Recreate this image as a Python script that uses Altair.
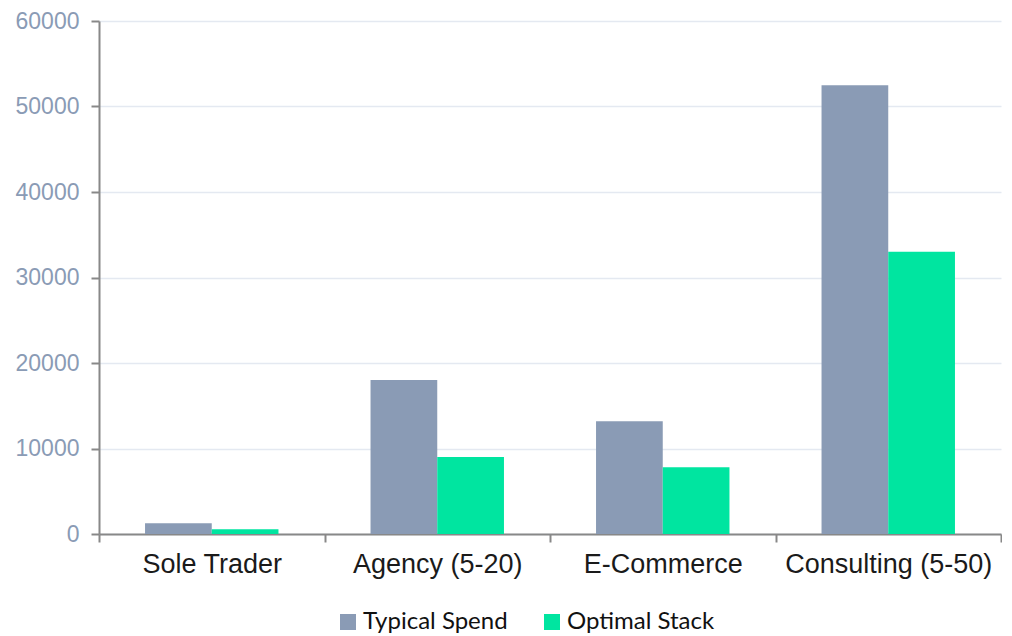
import altair as alt
import pandas as pd

categories = ["Sole Trader", "Agency (5-20)", "E-Commerce", "Consulting (5-50)"]
series = ["Typical Spend", "Optimal Stack"]
typical_spend = [1250, 18000, 13200, 52500]
optimal_stack = [550, 9000, 7800, 33000]
colors = ["#8a9bb5", "#00e5a0"]
y_ticks = [0, 10000, 20000, 30000, 40000, 50000, 60000]

rows = []
for c, t, o in zip(categories, typical_spend, optimal_stack):
    rows.append({"category": c, "series": series[0], "value": t})
    rows.append({"category": c, "series": series[1], "value": o})
df = pd.DataFrame(rows)

W = 902
H = 513

chart = alt.Chart(df).mark_bar().encode(
    x=alt.X("category:N", sort=categories,
            scale=alt.Scale(paddingInner=0, paddingOuter=0),
            axis=alt.Axis(title=None, tickBand="extent",
                          labelAngle=0, labelFont="Liberation Sans", labelFontSize=27,
                          labelColor="#1a1a1a", labelPadding=9, labelLimit=400,
                          domainColor="#888888", domainWidth=2,
                          tickColor="#888888", tickWidth=2, tickSize=8,
                          grid=False)),
    xOffset=alt.XOffset("series:N", sort=series,
                        scale=alt.Scale(paddingInner=0, paddingOuter=0.69)),
    y=alt.Y("value:Q",
            scale=alt.Scale(domain=[0, 60000], nice=False),
            axis=alt.Axis(title=None, values=y_ticks, format="d",
                          labelFont="Liberation Sans", labelFontSize=23,
                          labelColor="#8a9bb5", labelPadding=12,
                          domainColor="#888888", domainWidth=2,
                          tickColor="#888888", tickWidth=2, tickSize=8,
                          grid=True, gridColor="#e4e9f1", gridWidth=1.5)),
    color=alt.Color("series:N", sort=series,
                    scale=alt.Scale(domain=series, range=colors),
                    legend=alt.Legend(title=None, orient="none",
                                      legendX=237, legendY=589,
                                      direction="horizontal",
                                      symbolType="square", symbolSize=256,
                                      symbolStrokeWidth=0, symbolOpacity=1,
                                      labelFont="Lato", labelFontSize=24,
                                      labelColor="#111111", labelOffset=3,
                                      columnPadding=32)),
).properties(
    width=W, height=H,
    padding={"left": 7, "top": 2, "right": 0, "bottom": 0},
).configure_view(stroke=None)

chart.save("out.html", embed_options={"renderer": "svg", "actions": False})
